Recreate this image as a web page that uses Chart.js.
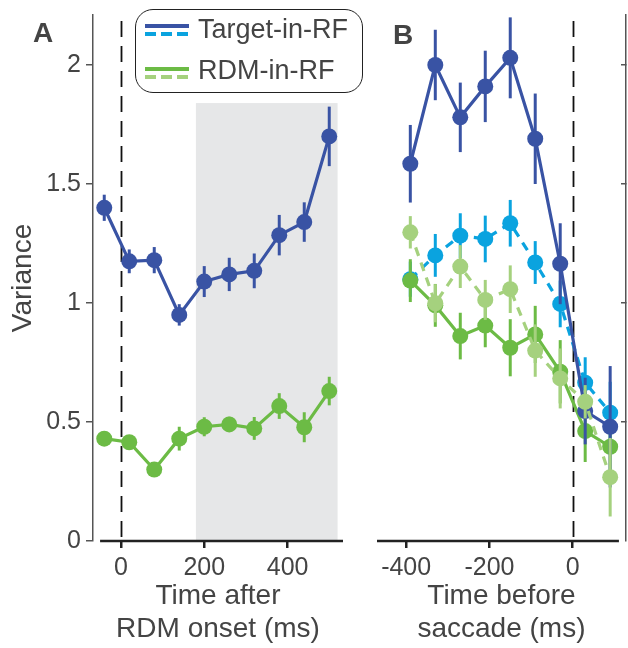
<!DOCTYPE html>
<html>
<head>
<meta charset="utf-8">
<script src="https://cdn.jsdelivr.net/npm/chart.js@4.4.0/dist/chart.umd.min.js"></script>
<style>
  body { margin: 0; background: #fff; }
  #wrap { position: relative; width: 628px; height: 648px; overflow: hidden; font-family: 'Liberation Sans', Arial, sans-serif; color: #444; }
  canvas { position: absolute; top: 0; }
  #chartA { left: 0; }
  #chartB { left: 372px; }
  .letter { position: absolute; font-weight: bold; font-size: 28px; line-height: 28px; color: #444; }
  .legend { position: absolute; left: 135px; top: 9px; width: 228px; height: 84px; box-sizing: border-box; border: 1.5px solid #222; border-radius: 18px; }
  .sw { position: absolute; left: 145px; width: 44px; height: 3.5px; }
  .lab { position: absolute; left: 198px; font-size: 27px; line-height: 27px; color: #444; white-space: nowrap; }
</style>
</head>
<body>
<div id="wrap">
  <canvas id="chartA" width="372" height="648"></canvas>
  <canvas id="chartB" width="256" height="648"></canvas>
  <div class="letter" style="left:33px; top:19px;">A</div>
  <div class="letter" style="left:393px; top:21px;">B</div>
  <div class="legend"></div>
  <div class="sw" style="top:24px; background:#3953a4;"></div>
  <div class="sw" style="top:32px; background:repeating-linear-gradient(90deg,#0aa3df 0 11px,transparent 11px 16px);"></div>
  <div class="lab" style="top:16px;">Target-in-RF</div>
  <div class="sw" style="top:67px; background:#6cbb45;"></div>
  <div class="sw" style="top:75px; background:repeating-linear-gradient(90deg,#a5d17e 0 11px,transparent 11px 16px);"></div>
  <div class="lab" style="top:57px;">RDM-in-RF</div>
</div>
<script>
Chart.defaults.font.family = "'Liberation Sans', Arial, sans-serif";
Chart.defaults.color = '#444';

// Panel A: time after RDM onset
const timeA = [-40, 20, 80, 140, 200, 260, 320, 380, 440, 500];
const targetA = [1.40, 1.175, 1.18, 0.95, 1.09, 1.12, 1.135, 1.285, 1.34, 1.70];
const targetAErr = [0.055, 0.05, 0.055, 0.045, 0.065, 0.07, 0.073, 0.085, 0.083, 0.125];
const rdmA = [0.43, 0.415, 0.30, 0.43, 0.48, 0.49, 0.473, 0.567, 0.478, 0.63];
const rdmAErr = [0.01, 0.012, 0.012, 0.05, 0.04, 0.032, 0.048, 0.054, 0.063, 0.06];
const shadeA = [180, 520, 1.84];

// Panel B: time before saccade
const timeB = [-390, -330, -270, -210, -150, -90, -30, 30, 90];
const targetB = [1.585, 2.0, 1.78, 1.91, 2.03, 1.69, 1.165, 0.546, 0.48];
const targetBErr = [0.163, 0.148, 0.146, 0.15, 0.17, 0.19, 0.17, 0.14, 0.255];
const targetDashB = [1.10, 1.20, 1.283, 1.269, 1.335, 1.17, 0.996, 0.665, 0.539];
const targetDashBErr = [0.074, 0.09, 0.094, 0.098, 0.098, 0.09, 0.098, 0.107, 0.13];
const rdmB = [1.094, 0.99, 0.861, 0.905, 0.812, 0.868, 0.711, 0.462, 0.396];
const rdmBErr = [0.09, 0.09, 0.098, 0.091, 0.12, 0.12, 0.133, 0.13, 0.1];
const rdmDashB = [1.297, 0.999, 1.153, 1.013, 1.058, 0.80, 0.683, 0.585, 0.268];
const rdmDashBErr = [0.068, 0.08, 0.09, 0.084, 0.1, 0.11, 0.126, 0.07, 0.165];

const yTicks = [0, 0.5, 1, 1.5, 2];
const xTicksA = [0, 200, 400];
const xTicksB = [-400, -200, 0];

const darkBlue = '#3953a4', lightBlue = '#0aa3df', green = '#6cbb45', lightGreen = '#a5d17e';

function series(xs, ys, errs, color, dashed) {
  return {
    data: xs.map((x, i) => ({x: x, y: ys[i]})),
    errors: errs,
    borderColor: color,
    backgroundColor: color,
    borderWidth: 3.2,
    borderDash: dashed ? [9, 7] : [],
    pointRadius: 8,
    pointHoverRadius: 8,
    pointBorderWidth: 0,
    pointBackgroundColor: color,
    tension: 0
  };
}

// no extra inset for tick labels, so the plot area lands where we want
function noPad(s) {
  s.paddingTop = 0; s.paddingBottom = 0; s.paddingLeft = 0; s.paddingRight = 0;
}

// shading, zero line, error bars and the offset x spine
const extras = {
  id: 'extras',
  beforeDatasetsDraw(chart, args, opts) {
    const {ctx, chartArea, scales: {x, y}} = chart;
    ctx.save();
    if (opts.shade) {
      const x0 = x.getPixelForValue(opts.shade[0]);
      const x1 = x.getPixelForValue(opts.shade[1]);
      const top = y.getPixelForValue(opts.shade[2]);
      ctx.fillStyle = '#e6e7e8';
      ctx.fillRect(x0, top, x1 - x0, y.getPixelForValue(0) - top);
    }
    const zx = Math.round(x.getPixelForValue(0)) + 0.5;
    ctx.strokeStyle = '#111';
    ctx.lineWidth = 1.8;
    ctx.setLineDash([16, 9]);
    ctx.beginPath();
    ctx.moveTo(zx, chartArea.top + 6);
    ctx.lineTo(zx, chartArea.bottom);
    ctx.stroke();
    ctx.restore();
  },
  beforeDatasetDraw(chart, args) {
    const ds = chart.data.datasets[args.index];
    if (!ds.errors) return;
    const {ctx, scales: {y}} = chart;
    ctx.save();
    ctx.strokeStyle = ds.borderColor;
    ctx.lineWidth = 3;
    args.meta.data.forEach((pt, i) => {
      const v = ds.data[i].y, e = ds.errors[i];
      ctx.beginPath();
      ctx.moveTo(pt.x, y.getPixelForValue(v - e));
      ctx.lineTo(pt.x, y.getPixelForValue(v + e));
      ctx.stroke();
    });
    ctx.restore();
  },
  afterDraw(chart, args, opts) {
    const {ctx, scales: {x, y}} = chart;
    const yy = y.getPixelForValue(0);
    ctx.save();
    ctx.strokeStyle = '#222';
    ctx.lineWidth = 2.5;
    ctx.beginPath();
    ctx.moveTo(x.getPixelForValue(opts.xLine[0]), yy);
    ctx.lineTo(x.getPixelForValue(opts.xLine[1]), yy);
    ctx.stroke();
    ctx.restore();
  }
};

function xScale(min, max, ticks, title) {
  return {
    type: 'linear', min: min, max: max,
    afterBuildTicks: s => { s.ticks = ticks.map(v => ({value: v})); },
    afterFit: s => { s.height = 107; noPad(s); },
    grid: {drawOnChartArea: false, drawTicks: true, tickLength: 7, color: '#222', lineWidth: 2.5},
    border: {display: false},
    ticks: {font: {size: 25}, color: '#444', padding: 5, maxRotation: 0, callback: v => String(v)},
    title: {display: true, text: title, font: {size: 28, lineHeight: 1.18}, color: '#444', padding: {top: 0, bottom: 2}}
  };
}

new Chart(document.getElementById('chartA'), {
  type: 'line',
  data: {
    datasets: [
      series(timeA, targetA, targetAErr, darkBlue, false),
      series(timeA, rdmA, rdmAErr, green, false)
    ]
  },
  options: {
    responsive: false,
    animation: false,
    events: [],
    layout: {autoPadding: false, padding: {top: 15, left: 0, right: 29, bottom: 0}},
    plugins: {legend: {display: false}, tooltip: {enabled: false},
      extras: {shade: shadeA, xLine: [-50, 533]}},
    scales: {
      x: xScale(-67, 533, xTicksA, ['Time after', 'RDM onset (ms)']),
      y: {
        type: 'linear', min: 0, max: 2.21,
        afterBuildTicks: s => { s.ticks = yTicks.map(v => ({value: v})); },
        afterFit: s => { s.width = 93; noPad(s); },
        grid: {drawOnChartArea: false, drawTicks: true, tickLength: 7, color: '#555', lineWidth: 1.5},
        border: {display: true, color: '#555', width: 1.5},
        ticks: {font: {size: 25}, color: '#444', padding: 5, callback: v => String(v)},
        title: {display: true, text: 'Variance', font: {size: 28, lineHeight: 1.2}, color: '#444', padding: {top: 6, bottom: 0}}
      }
    }
  },
  plugins: [extras]
});

new Chart(document.getElementById('chartB'), {
  type: 'line',
  data: {
    datasets: [
      series(timeB, rdmDashB, rdmDashBErr, lightGreen, true),
      series(timeB, targetB, targetBErr, darkBlue, false),
      series(timeB, rdmB, rdmBErr, green, false),
      series(timeB, targetDashB, targetDashBErr, lightBlue, true)
    ]
  },
  options: {
    responsive: false,
    animation: false,
    events: [],
    layout: {autoPadding: false, padding: {top: 15, left: 5, right: 0, bottom: 0}},
    plugins: {legend: {display: false}, tooltip: {enabled: false},
      extras: {xLine: [-470, 111]}},
    scales: {
      x: xScale(-470, 128, xTicksB, ['Time before', 'saccade (ms)']),
      y: {
        type: 'linear', position: 'right', min: 0, max: 2.21,
        afterBuildTicks: s => { s.ticks = yTicks.slice(1).map(v => ({value: v})); },
        afterFit: s => { s.width = 2; noPad(s); },
        grid: {drawOnChartArea: false, drawTicks: true, tickLength: -5, color: '#555', lineWidth: 1.5},
        border: {display: true, color: '#555', width: 1.5},
        ticks: {display: false}
      }
    }
  },
  plugins: [extras]
});
</script>
</body>
</html>
